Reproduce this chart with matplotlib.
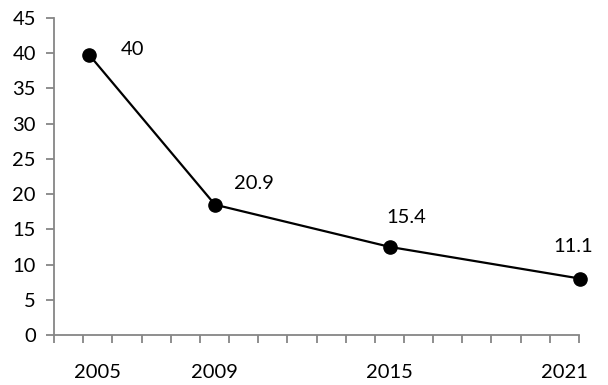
import matplotlib
matplotlib.use('Agg')
import matplotlib.pyplot as plt

# values; x positions in axis tick units (0..18)
years = ['2005', '2009', '2015', '2021']
x_pts = [1.2, 5.52, 11.52, 18.05]
values = [39.8, 18.5, 12.5, 8.0]
point_labels = ['40', '20.9', '15.4', '11.1']
label_pos = [1.5, 5.5, 11.5, 17.5]

plt.rcParams['font.family'] = ['Lato', 'DejaVu Sans']
plt.rcParams['font.size'] = 14.5

fig = plt.figure(figsize=(6.08, 3.85), dpi=100)
ax = fig.add_axes([54/608, 50/385, 525/608, 317/385])

ax.plot(x_pts, values, color='black', lw=1.6, marker='o', ms=9.5, clip_on=False, zorder=3)

offsets = [(44, 5), (39, 21), (16, 29), (-7, 32)]
for x, y, t, off in zip(x_pts, values, point_labels, offsets):
    ax.annotate(t, (x, y), xytext=off, textcoords='offset pixels',
                ha='center', va='center', annotation_clip=False)

ax.set_xlim(0, 18)
ax.set_ylim(0, 45)
ax.set_yticks(range(0, 46, 5))
ax.set_xticks(label_pos)
ax.set_xticklabels(years)
ax.set_xticks(range(0, 19), minor=True)

gray = '#868686'
for s in ['top', 'right']:
    ax.spines[s].set_visible(False)
for s in ['left', 'bottom']:
    ax.spines[s].set_color(gray)
    ax.spines[s].set_linewidth(1.3)

ax.tick_params(axis='y', length=6, width=1.3, color=gray, pad=7)
ax.tick_params(axis='x', which='major', length=0, pad=21)
ax.tick_params(axis='x', which='minor', length=6, width=1.3, color=gray)

fig.savefig('out.png', dpi=100)
